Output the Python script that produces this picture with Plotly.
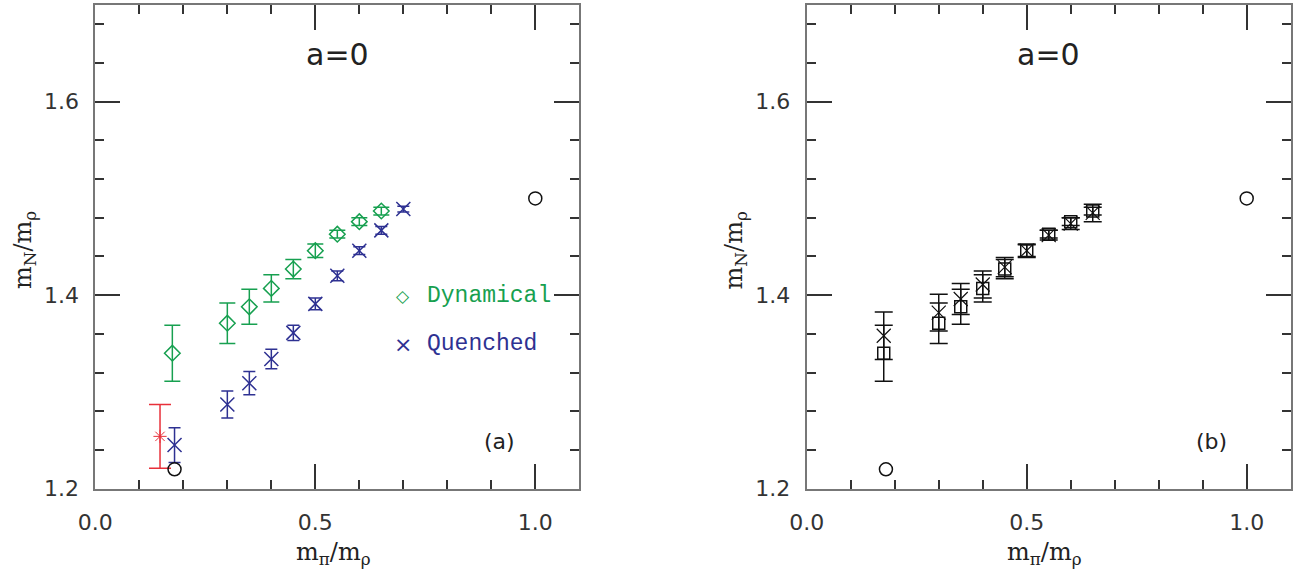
import plotly.graph_objects as go

# ---------------- data ----------------
dyn_x = [0.175, 0.30, 0.35, 0.40, 0.45, 0.50, 0.55, 0.60, 0.65]
dyn_y = [1.340, 1.371, 1.388, 1.407, 1.427, 1.446, 1.463, 1.476, 1.487]
dyn_err = [0.029, 0.021, 0.018, 0.014, 0.010, 0.007, 0.004, 0.004, 0.004]

que_x = [0.18, 0.30, 0.35, 0.40, 0.45, 0.50, 0.55, 0.60, 0.65, 0.70]
que_y = [1.245, 1.287, 1.309, 1.334, 1.361, 1.391, 1.420, 1.446, 1.467, 1.489]
que_err = [0.018, 0.014, 0.012, 0.010, 0.008, 0.006, 0.005, 0.004, 0.004, 0.003]

red_x = [0.147]
red_y = [1.254]
red_err = [0.033]

phys_x = [0.18, 1.0]
phys_y = [1.22, 1.50]

b_sq_x = dyn_x
b_sq_y = dyn_y
b_sq_err = dyn_err

b_x_x = [0.175, 0.30, 0.35, 0.40, 0.45, 0.50, 0.55, 0.60, 0.65]
b_x_y = [1.358, 1.382, 1.396, 1.411, 1.429, 1.446, 1.462, 1.474, 1.485]
b_x_err = [0.0245, 0.019, 0.016, 0.014, 0.010, 0.006, 0.005, 0.006, 0.009]

x_title = "m<sub>π</sub>/m<sub>ρ</sub>"
y_title = "m<sub>N</sub>/m<sub>ρ</sub>"

GREEN = "#17a050"
BLUE = "#2e3192"
RED = "#e8303a"
BLACK = "#111111"

fig = go.Figure()


def err(vals, color, w):
    return dict(type="data", array=vals, visible=True, color=color, thickness=1.5, width=w)


# ---- panel (a) ----
fig.add_trace(go.Scatter(x=dyn_x, y=dyn_y, mode="markers", xaxis="x", yaxis="y",
                         marker=dict(symbol="diamond-open", size=12, color=GREEN, line=dict(width=1.5, color=GREEN)),
                         error_y=err(dyn_err, GREEN, 8), showlegend=False))
fig.add_trace(go.Scatter(x=que_x, y=que_y, mode="markers", xaxis="x", yaxis="y",
                         marker=dict(symbol="x-thin-open", size=14, color=BLUE, line=dict(width=1.5, color=BLUE)),
                         error_y=err(que_err, BLUE, 6), showlegend=False))
fig.add_trace(go.Scatter(x=red_x, y=red_y, mode="markers", xaxis="x", yaxis="y",
                         marker=dict(symbol="asterisk-open", size=11, color=RED, line=dict(width=1, color=RED)),
                         error_y=err(red_err, RED, 11), showlegend=False))
fig.add_trace(go.Scatter(x=phys_x, y=phys_y, mode="markers", xaxis="x", yaxis="y",
                         marker=dict(symbol="circle-open", size=13, color=BLACK, line=dict(width=1.5, color=BLACK)),
                         showlegend=False))

# ---- panel (b) ----
fig.add_trace(go.Scatter(x=b_sq_x, y=b_sq_y, mode="markers", xaxis="x2", yaxis="y2",
                         marker=dict(symbol="square-open", size=12, color=BLACK, line=dict(width=1.5, color=BLACK)),
                         error_y=err(b_sq_err, BLACK, 9), showlegend=False))
fig.add_trace(go.Scatter(x=b_x_x, y=b_x_y, mode="markers", xaxis="x2", yaxis="y2",
                         marker=dict(symbol="x-thin-open", size=14, color=BLACK, line=dict(width=1.2, color=BLACK)),
                         error_y=err(b_x_err, BLACK, 9), showlegend=False))
fig.add_trace(go.Scatter(x=phys_x, y=phys_y, mode="markers", xaxis="x2", yaxis="y2",
                         marker=dict(symbol="circle-open", size=13, color=BLACK, line=dict(width=1.5, color=BLACK)),
                         showlegend=False))

W, H = 1313, 571
L1, R1 = 95.3, 579.3
L2, R2 = 806.7, 1290.7
TOP, BOT = 5.0, 488.7

tickfont = dict(family="DejaVu Sans", size=22, color="#333333")


def xaxis(dom, anchor):
    return dict(domain=dom, anchor=anchor, range=[-0.0001, 1.1], tickmode="linear", tick0=0, dtick=0.5,
                tickformat=".1f", ticks="inside", ticklen=25, tickwidth=1.5, tickcolor="#333",
                showline=True, linecolor="#777", linewidth=2, mirror="ticks", showgrid=False, zeroline=False,
                minor=dict(tickmode="linear", tick0=0, dtick=0.1, ticks="inside", ticklen=9, tickwidth=1.5,
                           tickcolor="#333", showgrid=False),
                tickfont=tickfont, ticklabelstandoff=13, automargin=False, fixedrange=True)


def yaxis(anchor):
    return dict(domain=[1 - BOT / H, 1 - TOP / H], anchor=anchor, range=[1.1999, 1.7], tickmode="linear",
                tick0=1.2, dtick=0.2, tickformat=".1f", ticks="inside", ticklen=25, tickwidth=1.5, tickcolor="#333",
                showline=True, linecolor="#777", linewidth=2, mirror="ticks", showgrid=False, zeroline=False,
                minor=dict(tickmode="linear", tick0=1.2, dtick=0.04, ticks="inside", ticklen=9, tickwidth=1.5,
                           tickcolor="#333", showgrid=False),
                tickfont=tickfont, ticklabelstandoff=10, automargin=False, fixedrange=True)


ann = []
titlefont = dict(family="DejaVu Serif", size=24, color="#222222")
for xr, yr, lab in [("x domain", "y domain", "(a)"), ("x2 domain", "y2 domain", "(b)")]:
    ann.append(dict(x=0.5, y=0.897, xref=xr, yref=yr, text="a=0", showarrow=False,
                    xanchor="center", yanchor="middle",
                    font=dict(family="DejaVu Sans", size=30, color="#222222")))
    ann.append(dict(x=0.836, y=0.097, xref=xr, yref=yr, text=lab, showarrow=False,
                    xanchor="center", yanchor="middle",
                    font=dict(family="DejaVu Sans", size=22, color="#222222")))

for cx in [(L1 + R1) / 2 - 4, (L2 + R2) / 2 - 4]:
    ann.append(dict(x=cx / W, y=1 - 553 / H, xref="paper", yref="paper", text=x_title,
                    xanchor="center", yanchor="middle", showarrow=False, font=titlefont))
for cx in [24, 24 + (L2 - L1)]:
    ann.append(dict(x=cx / W, y=1 - 250 / H, xref="paper", yref="paper", text=y_title,
                    xanchor="center", yanchor="middle", textangle=-90, showarrow=False, font=titlefont))

# legend (panel a)
legfont = "Liberation Mono"
ann.append(dict(x=0.636, y=0.398, xref="x domain", yref="y domain", text="◇", showarrow=False,
                xanchor="center", yanchor="middle",
                font=dict(family="DejaVu Sans", size=17, color=GREEN)))
ann.append(dict(x=0.681, y=0.398, xref="x domain", yref="y domain", text="Dynamical", showarrow=False,
                xanchor="left", yanchor="middle", font=dict(family=legfont, size=23, color=GREEN)))
ann.append(dict(x=0.636, y=0.299, xref="x domain", yref="y domain", text="×", showarrow=False,
                xanchor="center", yanchor="middle",
                font=dict(family="DejaVu Sans", size=22, color=BLUE)))
ann.append(dict(x=0.681, y=0.299, xref="x domain", yref="y domain", text="Quenched", showarrow=False,
                xanchor="left", yanchor="middle", font=dict(family=legfont, size=23, color=BLUE)))

fig.update_layout(
    width=W, height=H,
    margin=dict(l=0, r=0, t=0, b=0, autoexpand=False),
    paper_bgcolor="white", plot_bgcolor="white",
    xaxis=xaxis([L1 / W, R1 / W], "y"),
    yaxis=yaxis("x"),
    xaxis2=xaxis([L2 / W, R2 / W], "y2"),
    yaxis2=yaxis("x2"),
    annotations=ann,
    showlegend=False,
)

fig.write_html("out.html", config={"displayModeBar": False},
               post_script="document.body.style.margin='0px';document.body.style.padding='0px';"
                           "document.body.style.overflow='hidden';")
